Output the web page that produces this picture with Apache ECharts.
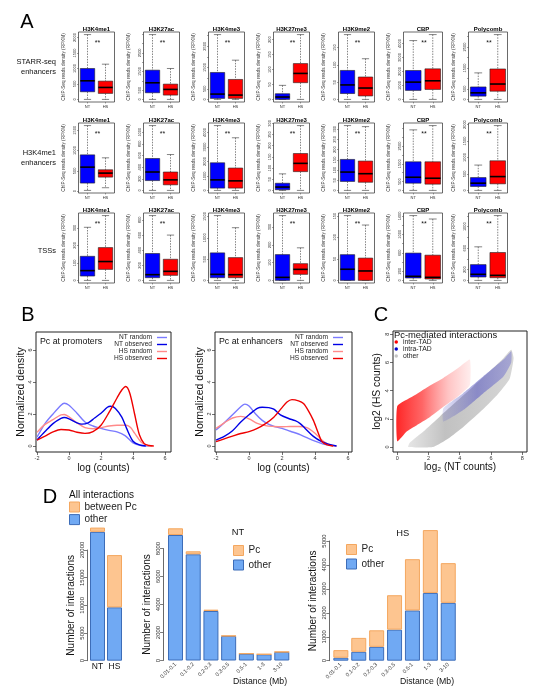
<!DOCTYPE html>
<html><head><meta charset="utf-8">
<script src="https://cdn.jsdelivr.net/npm/echarts@6/dist/echarts.min.js"></script>
<style>html,body{margin:0;padding:0;background:#fff}#c{width:540px;height:699px}</style>
</head><body><div id="c"></div>
<script>
const FONT = 'Liberation Sans, Arial, Helvetica, sans-serif';

// ---------------- Panel A data ----------------
const markNames = ['H3K4me1','H3K27ac','H3K4me3','H3K27me3','H3K9me2','CBP','Polycomb'];
const regionLabels = ['STARR-seq\nenhancers','H3K4me1\nenhancers','TSSs'];
const conditions = ['NT','HS'];
// each box: [min, Q1, median, Q3, max]
const starrNT = [[0,247,602,1000,2097],[0,357,893,1571,3482],[0,47,250,1266,3047],[0,0,8,19,47],[0,17,42,84,188],[0,643,1238,2071,4214],[0,156,313,594,1266]];
const starrHS = [[0,194,387,591,1140],[0,232,536,821,1661],[0,47,203,938,1844],[0,56,87,120,217],[0,10,33,65,118],[0,714,1333,2190,4643],[0,391,734,1453,3094]];
const starrTickStep = [500,500,500,50,50,1000,500];
const starrTickLabels = [[0,500,1000,1500,2000],[0,500,1500,2500],[0,500,1500,2500],[0,50,100,150,200],[0,50,100,150],[0,1000,2000,3000,4000],[0,500,1500,2500]];
const starrSig = [1,1,1,1,1,1,1];

const h3k4NT = [[16,197,590,893,1615],[0,169,316,548,1113],[0,159,727,1909,4477],[0,3,15,32,74],[0,44,90,152,318],[0,407,741,1611,3407],[0,120,220,390,770]];
const h3k4HS = [[82,344,443,525,820],[0,96,181,316,616],[0,159,659,1545,3636],[0,84,121,165,290],[0,40,82,144,313],[0,352,685,1611,3648],[0,200,420,900,1970]];
const h3k4TickStep = [500,200,1000,50,50,500,500];
const h3k4TickLabels = [[0,500,1000,1500],[0,200,400,600,800,1000],[0,1000,2000,3000,4000],[0,50,100,150,200,250,300],[0,50,100,150,200,250,300],[0,500,1500,2500],[0,500,1000,1500,2000]];
const h3k4Sig = [1,1,1,1,1,1,1];

const tssNT = [[0,25,56,138,304],[0,36,76,356,858],[0,63,142,646,1520],[0,0,17,145,364],[0,0,26,60,151],[0,52,89,593,1407],[0,63,113,294,625]];
const tssHS = [[0,63,108,188,371],[0,67,120,280,600],[0,63,134,535,1236],[0,34,62,94,183],[0,0,22,52,129],[0,30,67,548,1333],[0,50,94,519,1206]];
const tssTickStep = [100,200,500,100,50,200,200];
const tssTickLabels = [[0,100,200,300],[0,200,400,600,800],[0,500,1000,1500],[0,100,200,300],[0,50,100,150],[0,200,600,1000,1400],[0,200,600,1000]];
const tssSig = [1,1,0,1,1,1,1];

// ---------------- Panel B data ----------------
const densityTicksX = [-2,0,2,4,6];
const densityTicksY = [0,2,4,6];
const curveNames = ['NT random','NT observed','HS random','HS observed'];
const promNTrandom = [[-2,0.55],[-1.5,1.4],[-1,2.0],[-0.5,2.55],[-0.3,2.67],[0,2.55],[0.5,2.05],[1,1.5],[1.5,1.25],[2,1.1],[2.5,0.98],[3,0.88],[3.5,0.65],[4,0.2],[4.5,0.03],[5,0]];
const promNTobs = [[-2,0.37],[-1.5,0.9],[-1,1.4],[-0.5,1.72],[-0.3,1.78],[0,1.7],[0.5,1.45],[0.8,1.37],[1.2,1.45],[1.6,1.75],[2,2.05],[2.4,2.42],[2.6,2.48],[2.9,2.35],[3.3,1.8],[3.6,1.1],[4,0.3],[4.4,0.07],[4.8,0]];
const promHSrandom = [[-2,0.85],[-1.5,1.35],[-1,1.65],[-0.5,1.95],[-0.3,1.97],[0,1.82],[0.5,1.45],[1,1.15],[1.5,1.08],[2,1.15],[2.5,1.25],[3,1.3],[3.6,1.3],[3.85,1.15],[4.1,0.8],[4.5,0.25],[4.9,0.03],[5.2,0]];
const promHSobs = [[-2,0.37],[-1.5,0.62],[-1,0.88],[-0.5,1.03],[0,1.0],[0.5,0.86],[1,0.79],[1.5,0.9],[2,1.3],[2.5,2.1],[3,3.0],[3.3,3.5],[3.55,3.72],[3.8,3.3],[4.1,2.0],[4.4,0.7],[4.7,0.15],[5,0.03],[5.3,0]];
const enhNTrandom = [[-2,1.0],[-1.5,1.45],[-1,1.95],[-0.5,2.45],[-0.25,2.62],[0,2.5],[0.4,2.0],[0.8,1.6],[1.2,1.35],[1.6,1.2],[2,1.1],[2.5,0.92],[3,0.75],[3.5,0.52],[4,0.3],[4.5,0.12],[5,0.02],[5.3,0]];
const enhNTobs = [[-2,0.37],[-1.5,0.6],[-1,0.95],[-0.5,1.5],[0,1.95],[0.5,2.35],[0.8,2.42],[1.2,2.4],[1.5,2.3],[1.9,1.95],[2.4,1.72],[2.8,1.58],[3.1,1.4],[3.4,1.1],[3.9,0.6],[4.4,0.27],[4.8,0.12],[5.3,0]];
const enhHSrandom = [[-2,1.1],[-1.5,1.45],[-1,1.75],[-0.5,1.85],[0,1.7],[0.5,1.42],[1,1.27],[1.5,1.22],[2,1.2],[2.5,1.22],[3,1.22],[3.5,1.15],[4,0.8],[4.5,0.3],[5,0.04],[5.3,0]];
const enhHSobs = [[-2,0.27],[-1.5,0.45],[-1,0.62],[-0.5,0.78],[0,0.9],[0.5,1.1],[1,1.4],[1.5,1.8],[2,2.4],[2.3,2.75],[2.6,2.9],[3,2.82],[3.3,2.65],[3.6,2.2],[3.9,1.6],[4.2,0.8],[4.4,0.3],[4.7,0.08],[5.1,0]];

// ---------------- Panel C data (outlines of the point clouds) ----------------
const scatterTicks = [0,2,4,6,8];
const interTADBand = [[0,2.9],[1,3.6],[2,4.3],[2.95,4.9],[3.9,5.6],[4.65,6.2],[4.65,4.4],[3.9,3.6],[2.95,2.85],[2,2.05],[1.25,1.55],[0.6,1.1],[0,0.4]];
const otherBand = [[0.7,0],[2.3,0],[3.27,0.6],[4.23,1.42],[5.3,2.48],[6.37,3.66],[7.2,4.85],[7.45,6.3],[7.3,6.9],[6.8,6.3],[5.9,5.35],[4.87,4.3],[3.8,3.24],[2.73,2.17],[1.67,1.1],[0.8,0.3]];
const intraTADBand = [[2.95,1.8],[4.2,2.6],[5.5,3.8],[6.8,5.0],[7.3,6.0],[7.3,6.8],[6.8,6.2],[5.5,5.0],[4.2,3.8],[2.95,2.75]];

// ---------------- Panel D data ----------------
const allCond = ['NT','HS'];
const allOther = [23285, 9640];
const allPc = [765, 9440];
const distBins = ['0.01-0.1','0.1-0.2','0.2-0.3','0.3-0.5','0.5-1','1-3','3-10'];
const ntOther = [8964,7586,3536,1750,486,443,607];
const ntPc = [480,215,95,15,8,5,10];
const hsOther = [124,373,580,1298,2099,2831,2417];
const hsPc = [318,580,690,1437,2141,2625,1658];

// ---------------- layout & style ----------------
const colLeft = [78.5,143.5,208.5,273.5,338.5,403.5,468.5];
const colW = [36,36,36,36,36,39,39];
const rowTop = [32,123,213];
const rowH = 70;
const BLUE_BOX = '#0000FF', RED_BOX = '#FF0000';
const OTHER_FILL = '#70a9f3', OTHER_BORDER = '#3d6db8';
const PC_FILL = '#fdc590', PC_BORDER = '#f4a75f';
const curveColors = ['#7a7aff','#0000e6','#ff8a8a','#ee0000'];
const plain = v => String(v);

const grids = [], xAxes = [], yAxes = [], series = [], graphics = [], legends = [];

function renderBox(params, api) {
  const i = api.value(0);
  const v = [1,2,3,4,5].map(k => api.value(k));
  const band = api.size([1, 0])[0];
  const hw = band * 0.4;
  const cx = api.coord([i, v[2]])[0];
  const y = v.map(val => api.coord([i, val])[1]);
  const fill = i === 0 ? BLUE_BOX : RED_BOX;
  const capW = hw * 0.5;
  const dash = {stroke:'#333', lineWidth:0.6, lineDash:[1.5,1.2]};
  const solid = {stroke:'#333', lineWidth:0.6};
  return {type:'group', children:[
    {type:'line', shape:{x1:cx,y1:y[4],x2:cx,y2:y[3]}, style:dash},
    {type:'line', shape:{x1:cx,y1:y[1],x2:cx,y2:y[0]}, style:dash},
    {type:'line', shape:{x1:cx-capW,y1:y[4],x2:cx+capW,y2:y[4]}, style:solid},
    {type:'line', shape:{x1:cx-capW,y1:y[0],x2:cx+capW,y2:y[0]}, style:solid},
    {type:'rect', shape:{x:cx-hw, y:y[3], width:2*hw, height:y[1]-y[3]}, style:{fill:fill, stroke:'#222', lineWidth:0.6}},
    {type:'line', shape:{x1:cx-hw,y1:y[2],x2:cx+hw,y2:y[2]}, style:{stroke:'#000', lineWidth:1.6}}
  ]};
}

const rows = [
  {nt: starrNT, hs: starrHS, step: starrTickStep, labels: starrTickLabels, sig: starrSig},
  {nt: h3k4NT, hs: h3k4HS, step: h3k4TickStep, labels: h3k4TickLabels, sig: h3k4Sig},
  {nt: tssNT, hs: tssHS, step: tssTickStep, labels: tssTickLabels, sig: tssSig}
];

rows.forEach((row, r) => {
  for (let c = 0; c < 7; c++) {
    const g = grids.length;
    const all = row.nt[c].concat(row.hs[c]);
    const mn = Math.min(...all), mx = Math.max(...all);
    const ext = 0.04 * (mx - mn);
    const lo = mn - ext, hi = mx + ext;
    const step = row.step[c];
    const ticks = [];
    for (let t = Math.ceil(lo / step) * step; t <= hi; t += step) ticks.push(t);
    grids.push({left: colLeft[c], top: rowTop[r], width: colW[c], height: rowH, show: true,
      borderColor: '#444', borderWidth: 0.8, containLabel: false, outerBoundsMode: 'none'});
    xAxes.push({type:'category', gridIndex:g, data: conditions, position:'bottom',
      axisLine:{show:false, onZero:false}, axisTick:{show:true, length:1.5, alignWithLabel:true, lineStyle:{color:'#444', width:0.5}},
      axisLabel:{fontSize:4, margin:3, color:'#333', fontFamily:FONT}});
    yAxes.push({type:'value', gridIndex:g, min: lo, max: hi, splitLine:{show:false},
      axisLine:{show:false, onZero:false},
      axisTick:{show:true, length:1.5, customValues: ticks, lineStyle:{color:'#444', width:0.5}},
      axisLabel:{customValues: row.labels[c], formatter: plain, rotate:90, fontSize:4, margin:2, color:'#333', fontFamily:FONT},
      name:'ChIP-Seq reads density (RPKM)', nameLocation:'middle', nameGap:12.5, nameRotate:90,
      nameTextStyle:{fontSize:4.7, color:'#333', fontFamily:FONT}});
    series.push({type:'custom', xAxisIndex:g, yAxisIndex:g, silent:true,
      encode:{x:0, y:[1,2,3,4,5]},
      data: [[0].concat(row.nt[c]), [1].concat(row.hs[c])], renderItem: renderBox});
    graphics.push({type:'text', x: colLeft[c] + colW[c]/2, y: rowTop[r] - 3,
      style:{text: markNames[c], font:'bold 6px ' + FONT, fill:'#000', align:'center', verticalAlign:'middle'}});
    if (row.sig[c]) {
      graphics.push({type:'text', x: colLeft[c] + colW[c]/2 + 1, y: rowTop[r] + 11,
        style:{text:'**', font:'7px ' + FONT, fill:'#111', align:'center', verticalAlign:'middle'}});
    }
  }
  graphics.push({type:'text', x: 56, y: rowTop[r] + rowH/2 - (r === 2 ? -3 : 0),
    style:{text: regionLabels[r], font:'7.5px ' + FONT, lineHeight: 10, fill:'#111', align:'right', verticalAlign:'middle'}});
});

// ---------------- Panel B ----------------
function densityPanel(left, width, xmax, curves, title, legendRight) {
  const g = grids.length;
  grids.push({left: left, top: 332, width: width, height: 120, show:true, borderColor:'#222', borderWidth:1, containLabel:false, outerBoundsMode:'none'});
  xAxes.push({type:'value', gridIndex:g, min:-2.0625, max:xmax, position:'bottom', splitLine:{show:false}, axisLine:{show:false, onZero:false},
    axisTick:{show:true, length:3, customValues:densityTicksX, lineStyle:{color:'#333', width:0.7}},
    axisLabel:{customValues:densityTicksX, formatter: plain, fontSize:5.5, margin:3, color:'#333'},
    name:'log (counts)', nameLocation:'middle', nameGap:11, nameTextStyle:{fontSize:10, color:'#111'}});
  yAxes.push({type:'value', gridIndex:g, min:-0.375, max:7.125, position:'left', splitLine:{show:false}, axisLine:{show:false, onZero:false},
    axisTick:{show:true, length:3, customValues:densityTicksY, lineStyle:{color:'#333', width:0.7}},
    axisLabel:{customValues:densityTicksY, formatter: plain, fontSize:5.5, margin:2.5, rotate:90, color:'#333'},
    name:'Normalized density', nameLocation:'middle', nameGap:9, nameRotate:90, nameTextStyle:{fontSize:10.5, color:'#111'}});
  curves.forEach((d, k) => {
    series.push({type:'line', name: curveNames[k], xAxisIndex:g, yAxisIndex:g, data:d, smooth:0.3,
      showSymbol:false, silent:true, lineStyle:{color:curveColors[k], width:1.4}, itemStyle:{color:curveColors[k]}, z: k === 1 || k === 3 ? 3 : 2});
  });
  graphics.push({type:'text', x:left + 4, y:342, style:{text:title, font:'8.8px ' + FONT, fill:'#111', align:'left', verticalAlign:'middle'}});
  legends.push({right: legendRight, top: 334, orient:'vertical', align:'right', icon:'rect', itemWidth:10, itemHeight:1.4,
    itemGap:0, itemTextGap:2, padding:0, selectedMode:false,
    textStyle:{fontSize:6.6, lineHeight:6, color:'#222', fontFamily:FONT},
    data: curveNames.map((n, k) => ({name:n, itemStyle:{color:curveColors[k]}}))});
}
densityPanel(36, 135, 6.375, [promNTrandom, promNTobs, promHSrandom, promHSobs], 'Pc at promoters', 540 - 167);
densityPanel(215, 137, 6.24, [enhNTrandom, enhNTobs, enhHSrandom, enhHSobs], 'Pc at enhancers', 540 - 343);

// ---------------- Panel C ----------------
(function() {
  const g = grids.length;
  grids.push({left:393, top:331, width:134, height:121, show:true, borderColor:'#222', borderWidth:1, containLabel:false, outerBoundsMode:'none'});
  xAxes.push({type:'value', gridIndex:g, min:-0.276, max:8.31, position:'bottom', splitLine:{show:false}, axisLine:{show:false, onZero:false},
    axisTick:{show:true, length:3, customValues:scatterTicks, lineStyle:{color:'#333', width:0.7}},
    axisLabel:{customValues:scatterTicks, formatter: plain, fontSize:5.5, margin:3, color:'#333'},
    name:'log\u2082 (NT counts)', nameLocation:'middle', nameGap:10, nameTextStyle:{fontSize:10, color:'#111'}});
  yAxes.push({type:'value', gridIndex:g, min:-0.355, max:8.23, position:'left', splitLine:{show:false}, axisLine:{show:false, onZero:false},
    axisTick:{show:true, length:3, customValues:scatterTicks, lineStyle:{color:'#333', width:0.7}},
    axisLabel:{customValues:scatterTicks, formatter: plain, fontSize:5.5, margin:2.5, rotate:90, color:'#333'},
    name:'log2 (HS counts)', nameLocation:'middle', nameGap:11, nameRotate:90, nameTextStyle:{fontSize:10.3, color:'#111'}});
  function bandSeries(name, pts, stops, z) {
    series.push({type:'custom', name:name, xAxisIndex:g, yAxisIndex:g, silent:true, z:z, data: pts,
      encode:{x:0, y:1},
      renderItem: function(params, api) {
        if (params.dataIndex !== 0) return null;
        return {type:'polygon', shape:{points: pts.map(p => api.coord(p)), smooth:0.15},
          style:{fill: new echarts.graphic.LinearGradient(0,0,1,0, stops), stroke:'none'}};
      }});
  }
  bandSeries('other', otherBand, [{offset:0,color:'rgba(170,170,170,0.3)'},{offset:0.35,color:'rgba(160,160,160,0.65)'},{offset:1,color:'rgba(165,165,165,0.45)'}], 2);
  bandSeries('intra-TAD', intraTADBand, [{offset:0,color:'rgba(100,100,200,0.2)'},{offset:0.5,color:'rgba(85,85,195,0.55)'},{offset:1,color:'rgba(95,95,205,0.4)'}], 3);
  bandSeries('inter-TAD', interTADBand, [{offset:0,color:'rgba(255,0,0,0.85)'},{offset:0.35,color:'rgba(255,20,20,0.65)'},{offset:0.7,color:'rgba(255,60,60,0.3)'},{offset:1,color:'rgba(255,80,80,0.1)'}], 3);
  graphics.push({type:'text', x:394, y:335, style:{text:'Pc-mediated interactions', font:'9.4px ' + FONT, fill:'#111', align:'left', verticalAlign:'middle'}});
  legends.push({left:394.5, top:338.5, orient:'vertical', icon:'circle', itemWidth:3.5, itemHeight:3.5, itemGap:0, itemTextGap:1.5,
    padding:0, selectedMode:false, textStyle:{fontSize:6.8, lineHeight:6.7, color:'#222', fontFamily:FONT},
    data:[{name:'inter-TAD', itemStyle:{color:'#ff0000'}}, {name:'intra-TAD', itemStyle:{color:'#0000cc'}}, {name:'other', itemStyle:{color:'#c4c4c4'}}]});
})();

// ---------------- Panel D ----------------
function barPanel(opt) {
  const g = grids.length;
  grids.push({left:opt.left, top:opt.top, width:opt.width, height:opt.bottom - opt.top, show:false, containLabel:false, outerBoundsMode:'none'});
  xAxes.push({type:'category', gridIndex:g, data:opt.cats, position:'bottom', axisLine:{show:false, onZero:false}, axisTick:{show:false},
    axisLabel: opt.rot ? {rotate:45, fontSize:5.5, margin:3, color:'#333', interval:0}
                       : {fontSize:8.5, margin:1.5, color:'#111', interval:0}});
  yAxes.push({type:'value', gridIndex:g, min:0, max:opt.max, interval:opt.interval, offset:opt.offset, position:'left', splitLine:{show:false},
    axisLine:{show:true, onZero:false, lineStyle:{color:'#444', width:0.8}},
    axisTick:{show:true, length:3, lineStyle:{color:'#444', width:0.7}},
    axisLabel:{rotate:90, fontSize:6, margin:2, color:'#333', formatter: plain},
    name:'Number of interactions', nameLocation:'middle', nameGap:opt.nameGap, nameRotate:90, nameTextStyle:{fontSize:10, color:'#111'}});
  series.push({type:'bar', name:'other', stack:'s' + g, xAxisIndex:g, yAxisIndex:g, data:opt.other, barWidth:15, clip:false, silent:true,
    itemStyle:{color:OTHER_FILL, borderColor:OTHER_BORDER, borderWidth:1}});
  series.push({type:'bar', name:opt.pcName, stack:'s' + g, xAxisIndex:g, yAxisIndex:g, data:opt.pc, barWidth:15, clip:false, silent:true,
    itemStyle:{color:PC_FILL, borderColor:PC_BORDER, borderWidth:1}});
  if (opt.xname) {
    graphics.push({type:'text', x:opt.xnameX, y:682, style:{text:opt.xname, font:'8.7px ' + FONT, fill:'#111', align:'center', verticalAlign:'middle'}});
  }
}
barPanel({left:89, top:550, bottom:660.7, width:34, cats:allCond, other:allOther, pc:allPc, pcName:'between Pc', max:20000, interval:5000, offset:2, nameGap:11});
barPanel({left:166.65, top:548.5, bottom:660.5, width:124, cats:distBins, other:ntOther, pc:ntPc, pcName:'Pc', max:8000, interval:2000, offset:3.6, nameGap:11, rot:true, xname:'Distance (Mb)', xnameX:260});
barPanel({left:331.9, top:541, bottom:660.7, width:125.3, cats:distBins, other:hsOther, pc:hsPc, pcName:'Pc', max:5000, interval:1000, offset:2.6, nameGap:11, rot:true, xname:'Distance (Mb)', xnameX:427});

const legStyle = {orient:'vertical', icon:'rect', itemWidth:10, itemHeight:10, padding:0, selectedMode:false,
  textStyle:{fontSize:10, lineHeight:10, color:'#222', fontFamily:FONT}};
const pcItem = n => ({name:n, itemStyle:{color:PC_FILL, borderColor:PC_BORDER, borderWidth:1}});
const otherItem = {name:'other', itemStyle:{color:OTHER_FILL, borderColor:OTHER_BORDER, borderWidth:1}};
legends.push(Object.assign({left:69, top:501.5, itemGap:1.6, itemTextGap:1, data:[pcItem('between Pc'), otherItem]}, legStyle));
legends.push(Object.assign({left:233, top:545, itemGap:3.5, itemTextGap:2.5, data:[pcItem('Pc'), otherItem]}, legStyle));
legends.push(Object.assign({left:346, top:544, itemGap:3.5, itemTextGap:2.5, data:[pcItem('Pc'), otherItem]}, legStyle));
graphics.push({type:'text', x:69, y:495.5, style:{text:'All interactions', font:'10px ' + FONT, fill:'#111', align:'left', verticalAlign:'middle'}});
graphics.push({type:'text', x:238, y:532, style:{text:'NT', font:'9.3px ' + FONT, fill:'#111', align:'center', verticalAlign:'middle'}});
graphics.push({type:'text', x:402.7, y:533, style:{text:'HS', font:'9.3px ' + FONT, fill:'#111', align:'center', verticalAlign:'middle'}});

// panel letters
[['A',27,22],['B',28,315],['C',381,315],['D',50,497]].forEach(([t,x,y]) => {
  graphics.push({type:'text', x:x, y:y, style:{text:t, font:'20px ' + FONT, fill:'#000', align:'center', verticalAlign:'middle'}});
});

const chart = echarts.init(document.getElementById('c'), null, {renderer:'canvas', width:540, height:699});
chart.setOption({
  animation:false, backgroundColor:'#fff',
  textStyle:{fontFamily:FONT},
  grid:grids, xAxis:xAxes, yAxis:yAxes, series:series, legend:legends, graphic:graphics
});
</script></body></html>
